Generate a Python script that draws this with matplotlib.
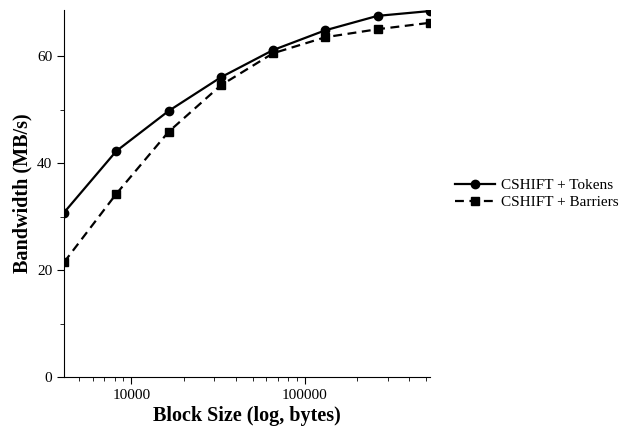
import numpy as np
import matplotlib.pyplot as plt

plt.rcParams['font.family'] = ['Liberation Serif', 'DejaVu Serif']

block_size = [4096, 8192, 16384, 32768, 65536, 131072, 262144, 524288]
tokens = [30.8, 42.3, 49.8, 56.1, 61.2, 64.9, 67.6, 68.5]
barriers = [21.5, 34.3, 45.9, 54.6, 60.6, 63.6, 65.1, 66.3]

fig = plt.figure(figsize=(6.22, 4.34), dpi=100)
ax = fig.add_axes([0.103, 0.131, 0.588, 0.846])

ax.plot(block_size, tokens, color='black', lw=1.6, marker='o', ms=6,
        label='CSHIFT + Tokens')
ax.plot(block_size, barriers, color='black', lw=1.6, ls=(0, (4, 2.5)), marker='s', ms=6,
        label='CSHIFT + Barriers')

ax.set_xscale('log')
ax.set_xlim(4096, 524288)
ax.set_ylim(0, 68.7)
ax.set_xticks([10000, 100000])
ax.set_xticklabels(['10000', '100000'])
ax.set_yticks([0, 20, 40, 60])
ax.set_yticks([10, 30, 50], minor=True)
ax.tick_params(which='both', direction='out', labelsize=11)
ax.tick_params(which='major', length=5)
ax.tick_params(which='minor', length=3)
for s in ['top', 'right']:
    ax.spines[s].set_visible(False)

ax.set_xlabel('Block Size (log, bytes)', fontsize=14.5, fontweight='bold', labelpad=3)
ax.set_ylabel('Bandwidth (MB/s)', fontsize=14.5, fontweight='bold', labelpad=3)

fig.legend(loc='center left', bbox_to_anchor=(0.71, 0.553), frameon=False,
           fontsize=11, handlelength=2.6, handletextpad=0.4, labelspacing=0.2)

fig.savefig('out.png', dpi=100)
